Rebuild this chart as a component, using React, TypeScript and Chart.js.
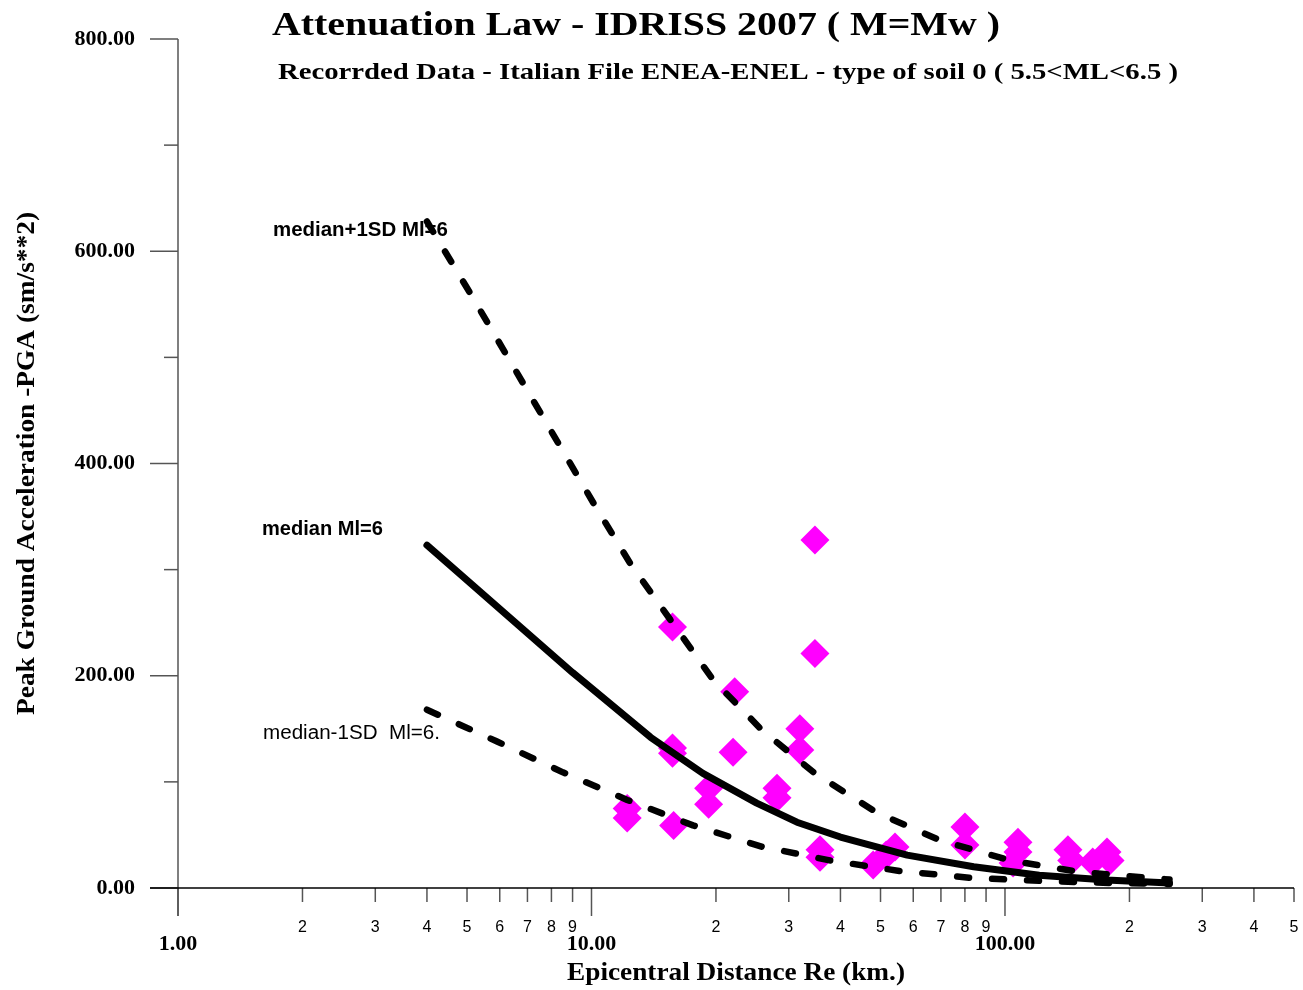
import React, { useEffect, useRef } from 'react';
import { Chart, registerables } from 'chart.js';

Chart.register(...registerables);

// ---- Data ----
const medianDist = [4, 9, 13.9, 18.6, 25.1, 31.4, 40, 58, 84, 121, 176, 250];
const medianPGA = [323, 203, 142, 108, 80, 62, 48, 31, 20, 12, 7.5, 4.7];

const upperDist = [4, 5.08, 10.1, 12.4, 15.5, 19.7, 25.8, 34.7, 49, 69.6, 103, 152, 224, 250];
const upperPGA = [628, 561, 363, 306, 253, 196, 149, 108, 71, 45, 26, 15, 9.4, 8];

const lowerDist = [4, 5.91, 8.53, 12.2, 17.6, 25.8, 37.7, 55.7, 83.7, 123.6, 182.5, 250];
const lowerPGA = [168, 138, 109, 83, 59, 39, 26, 16, 9.4, 6.6, 4.7, 3.8];

const recDist = [34.7, 34.7, 15.7, 22.2, 31.9, 31.9, 15.7, 15.7, 22.0, 12.2, 12.2, 15.8, 19.2, 19.2, 28.1, 28.1, 35.7, 35.7, 48.0, 54.2, 51.6, 80.0, 80.0, 107.5, 107.5, 104.6, 142, 145, 176.5, 163, 179.5];
const recPGA = [328, 221, 246, 185, 150, 130, 132, 127, 128, 75, 66, 59, 94, 79, 94, 85, 36, 29, 21.7, 38.6, 31, 57.5, 40.5, 43, 34, 23.6, 36, 26, 34, 24.5, 26];

const xMajorTicks = [1, 10, 100];
const xMajorLabels = ['1.00', '10.00', '100.00'];
const xMinorTicks = [2, 3, 4, 5, 6, 7, 8, 9, 20, 30, 40, 50, 60, 70, 80, 90, 200, 300, 400, 500];
const xMinorLabels = ['2', '3', '4', '5', '6', '7', '8', '9', '2', '3', '4', '5', '6', '7', '8', '9', '2', '3', '4', '5'];
const yMajorTicks = [0, 200, 400, 600, 800];
const yMajorLabels = ['0.00', '200.00', '400.00', '600.00', '800.00'];
const yMinorTicks = [100, 300, 500, 700];

const TITLE = 'Attenuation Law - IDRISS 2007 ( M=Mw )';
const SUBTITLE = 'Recorrded Data - Italian File ENEA-ENEL - type of soil 0 ( 5.5<ML<6.5 )';
const X_TITLE = 'Epicentral Distance Re (km.)';
const Y_TITLE = 'Peak Ground Acceleration -PGA (sm/s**2)';
const LBL_UPPER = 'median+1SD Ml=6';
const LBL_MEDIAN = 'median Ml=6';
const LBL_LOWER = 'median-1SD  Ml=6.';

const SERIF = '"Liberation Serif", "Times New Roman", serif';
const SANS = '"Liberation Sans", Arial, sans-serif';

function toXY(xs: number[], ys: number[]) {
  return xs.map((x, i) => ({ x, y: ys[i] }));
}

function fitText(ctx: CanvasRenderingContext2D, text: string, weight: string, family: string, target: number) {
  ctx.font = `${weight} 100px ${family}`;
  const w = ctx.measureText(text).width;
  const size = (100 * target) / w;
  ctx.font = `${weight} ${size.toFixed(2)}px ${family}`;
}

// fixed font size, glyphs stretched horizontally to reach the target width
function stretchedText(ctx: CanvasRenderingContext2D, text: string, font: string, target: number, x: number, y: number, rot = 0) {
  ctx.save();
  ctx.font = font;
  const w = ctx.measureText(text).width;
  ctx.translate(x, y);
  if (rot) ctx.rotate(rot);
  ctx.scale(target / w, 1);
  ctx.textAlign = 'left';
  ctx.fillText(text, 0, 0);
  ctx.restore();
}

const decorPlugin = {
  id: 'decor',
  beforeDatasetsDraw(chart: any) {
    const ctx: CanvasRenderingContext2D = chart.ctx;
    const xs = chart.scales.x;
    const ys = chart.scales.y;
    const x0 = xs.getPixelForValue(1);
    const y0 = ys.getPixelForValue(0);
    const yTop = ys.getPixelForValue(800);
    ctx.save();
    ctx.lineCap = 'butt';
    ctx.strokeStyle = '#555';
    ctx.lineWidth = 1.5;
    ctx.beginPath();
    ctx.moveTo(x0, yTop);
    ctx.lineTo(x0, y0 + 28);
    ctx.stroke();
    yMajorTicks.forEach((v) => {
      const p = ys.getPixelForValue(v);
      ctx.beginPath();
      ctx.moveTo(x0 - 28, p);
      ctx.lineTo(x0, p);
      ctx.stroke();
    });
    yMinorTicks.forEach((v) => {
      const p = ys.getPixelForValue(v);
      ctx.beginPath();
      ctx.moveTo(x0 - 14, p);
      ctx.lineTo(x0, p);
      ctx.stroke();
    });
    xMajorTicks.forEach((v) => {
      const p = xs.getPixelForValue(v);
      ctx.beginPath();
      ctx.moveTo(p, y0);
      ctx.lineTo(p, y0 + 28);
      ctx.stroke();
    });
    xMinorTicks.forEach((v) => {
      const p = xs.getPixelForValue(v);
      ctx.beginPath();
      ctx.moveTo(p, y0);
      ctx.lineTo(p, y0 + 14);
      ctx.stroke();
    });
    ctx.strokeStyle = '#000';
    ctx.lineWidth = 1.5;
    ctx.beginPath();
    ctx.moveTo(x0 - 28, y0);
    ctx.lineTo(xs.right, y0);
    ctx.stroke();

    ctx.fillStyle = '#000';
    ctx.textBaseline = 'middle';
    ctx.font = `bold 22px ${SERIF}`;
    ctx.textAlign = 'right';
    yMajorTicks.forEach((v, i) => {
      ctx.fillText(yMajorLabels[i], x0 - 43, ys.getPixelForValue(v));
    });
    ctx.textAlign = 'center';
    xMajorTicks.forEach((v, i) => {
      ctx.fillText(xMajorLabels[i], xs.getPixelForValue(v), y0 + 56);
    });
    ctx.font = `16px ${SANS}`;
    xMinorTicks.forEach((v, i) => {
      ctx.fillText(xMinorLabels[i], xs.getPixelForValue(v), y0 + 40);
    });
    ctx.restore();
  },
  afterDraw(chart: any) {
    const ctx: CanvasRenderingContext2D = chart.ctx;
    ctx.save();
    ctx.fillStyle = '#000';
    ctx.textBaseline = 'alphabetic';
    stretchedText(ctx, TITLE, `bold 33px ${SERIF}`, 728, 272, 35);
    stretchedText(ctx, SUBTITLE, `bold 24px ${SERIF}`, 900, 278, 79);
    stretchedText(ctx, X_TITLE, `bold 25px ${SERIF}`, 338, 567, 980);
    stretchedText(ctx, Y_TITLE, `bold 25px ${SERIF}`, 503, 34, 715, -Math.PI / 2);
    ctx.textAlign = 'left';
    fitText(ctx, LBL_UPPER, 'bold', SANS, 175);
    ctx.fillText(LBL_UPPER, 273, 236);
    fitText(ctx, LBL_MEDIAN, 'bold', SANS, 121);
    ctx.fillText(LBL_MEDIAN, 262, 535);
    fitText(ctx, LBL_LOWER, 'normal', SANS, 177);
    ctx.fillText(LBL_LOWER, 263, 739);
    ctx.restore();
  },
};

export default function App() {
  const canvasRef = useRef<HTMLCanvasElement | null>(null);

  useEffect(() => {
    if (!canvasRef.current) return;
    const dashed = {
      showLine: true,
      pointRadius: 0,
      borderColor: '#000',
      borderWidth: 6.5,
      borderDash: [12, 23],
      borderCapStyle: 'round' as const,
      borderJoinStyle: 'round' as const,
      tension: 0,
      order: 1,
    };
    const chart = new Chart(canvasRef.current, {
      type: 'scatter',
      data: {
        datasets: [
          { label: 'median+1SD', data: toXY(upperDist, upperPGA), ...dashed },
          {
            label: 'median',
            data: toXY(medianDist, medianPGA),
            showLine: true,
            pointRadius: 0,
            borderColor: '#000',
            borderWidth: 7,
            borderCapStyle: 'round',
            borderJoinStyle: 'round',
            tension: 0,
            order: 1,
          },
          { label: 'median-1SD', data: toXY(lowerDist, lowerPGA), ...dashed },
          {
            label: 'recorded',
            data: toXY(recDist, recPGA),
            showLine: false,
            pointStyle: 'rectRot',
            pointRadius: 14.5,
            pointBorderWidth: 0,
            backgroundColor: '#FF00FF',
            borderColor: '#FF00FF',
            order: 2,
          },
        ],
      },
      options: {
        animation: false,
        responsive: true,
        maintainAspectRatio: false,
        layout: { autoPadding: false, padding: { left: 178, right: 9, top: 39, bottom: 102 } },
        plugins: { legend: { display: false }, tooltip: { enabled: false }, title: { display: false } },
        scales: {
          x: { type: 'logarithmic', min: 1, max: 500, display: false },
          y: { type: 'linear', min: 0, max: 800, display: false },
        },
      },
      plugins: [decorPlugin],
    });
    return () => chart.destroy();
  }, []);

  return (
    <div style={{ position: 'absolute', left: 0, top: 0, width: 1303, height: 990, overflow: 'hidden', background: '#fff' }}>
      <canvas ref={canvasRef} style={{ display: 'block' }} />
    </div>
  );
}
